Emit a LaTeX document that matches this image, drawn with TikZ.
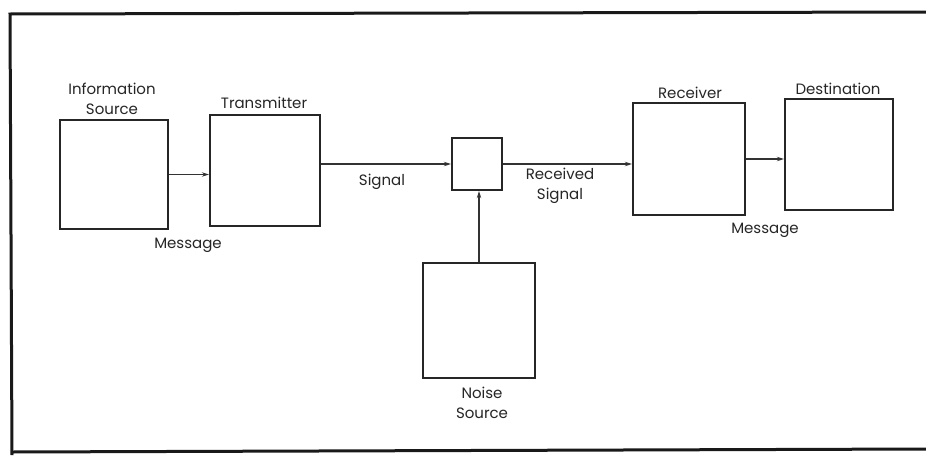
\documentclass[tikz,border=0pt]{standalone}
\usepackage{fontspec}
\setmainfont{Poppins}
\usetikzlibrary{arrows.meta}
\begin{document}
\begin{tikzpicture}[x=1pt,y=-1pt,
  blk/.style={draw=black!85, line width=2.3pt, minimum width=#1, minimum height=#1, inner sep=0pt},
  lbl/.style={font=\fontsize{15}{19.5}\selectfont, text=black!85, align=center, inner sep=0pt},
  arr/.style={draw=black!80, line width=1.4pt, -{Stealth[length=7pt,width=4.5pt]}},
  frame/.style={draw=black!90, line width=3pt}]
\useasboundingbox (0,0) rectangle (926,458);
\fill[white] (0,0) rectangle (926,458);
% outer frame, open on the right
\draw[frame] (926,12) -- (10,14) -- (12,455);
\draw[frame] (12,452) -- (926,449);
% blocks
\node[blk=108pt, minimum height=109pt] (src) at (114,174.5) {};
\node[blk=110pt, minimum height=111pt] (tx) at (265,170.5) {};
\node[blk=50pt, minimum height=52pt] (mix) at (477,164) {};
\node[blk=112pt, minimum height=112pt] (rx) at (689,159) {};
\node[blk=108pt, minimum height=111pt] (dst) at (839,154.5) {};
\node[blk=112pt, minimum height=115pt] (noise) at (479,320.5) {};
% connectors
\draw[arr] (src.east) -- (src.east -| tx.west);
\draw[arr] (tx.east |- mix.west) -- (mix.west);
\draw[arr] (mix.east) -- (mix.east -| rx.west);
\draw[arr] (rx.east) -- (rx.east -| dst.west);
\draw[arr] (noise.north) -- (noise.north |- mix.south);
% labels
\node[lbl] (lsrc) at (112,99) {Information\\Source};
\node[lbl] (ltx) at (264,103) {Transmitter};
\node[lbl] (lmsg1) at (188,245) {Message};
\node[lbl] (lsig) at (382,182) {Signal};
\node[lbl] (lrsig) at (560,186) {Received\\Signal};
\node[lbl] (lrx) at (690,93) {Receiver};
\node[lbl] (ldst) at (838,89) {Destination};
\node[lbl] (lmsg2) at (765,230) {Message};
\node[lbl] (lnoise) at (482,403) {Noise\\Source};
\end{tikzpicture}
\end{document}
